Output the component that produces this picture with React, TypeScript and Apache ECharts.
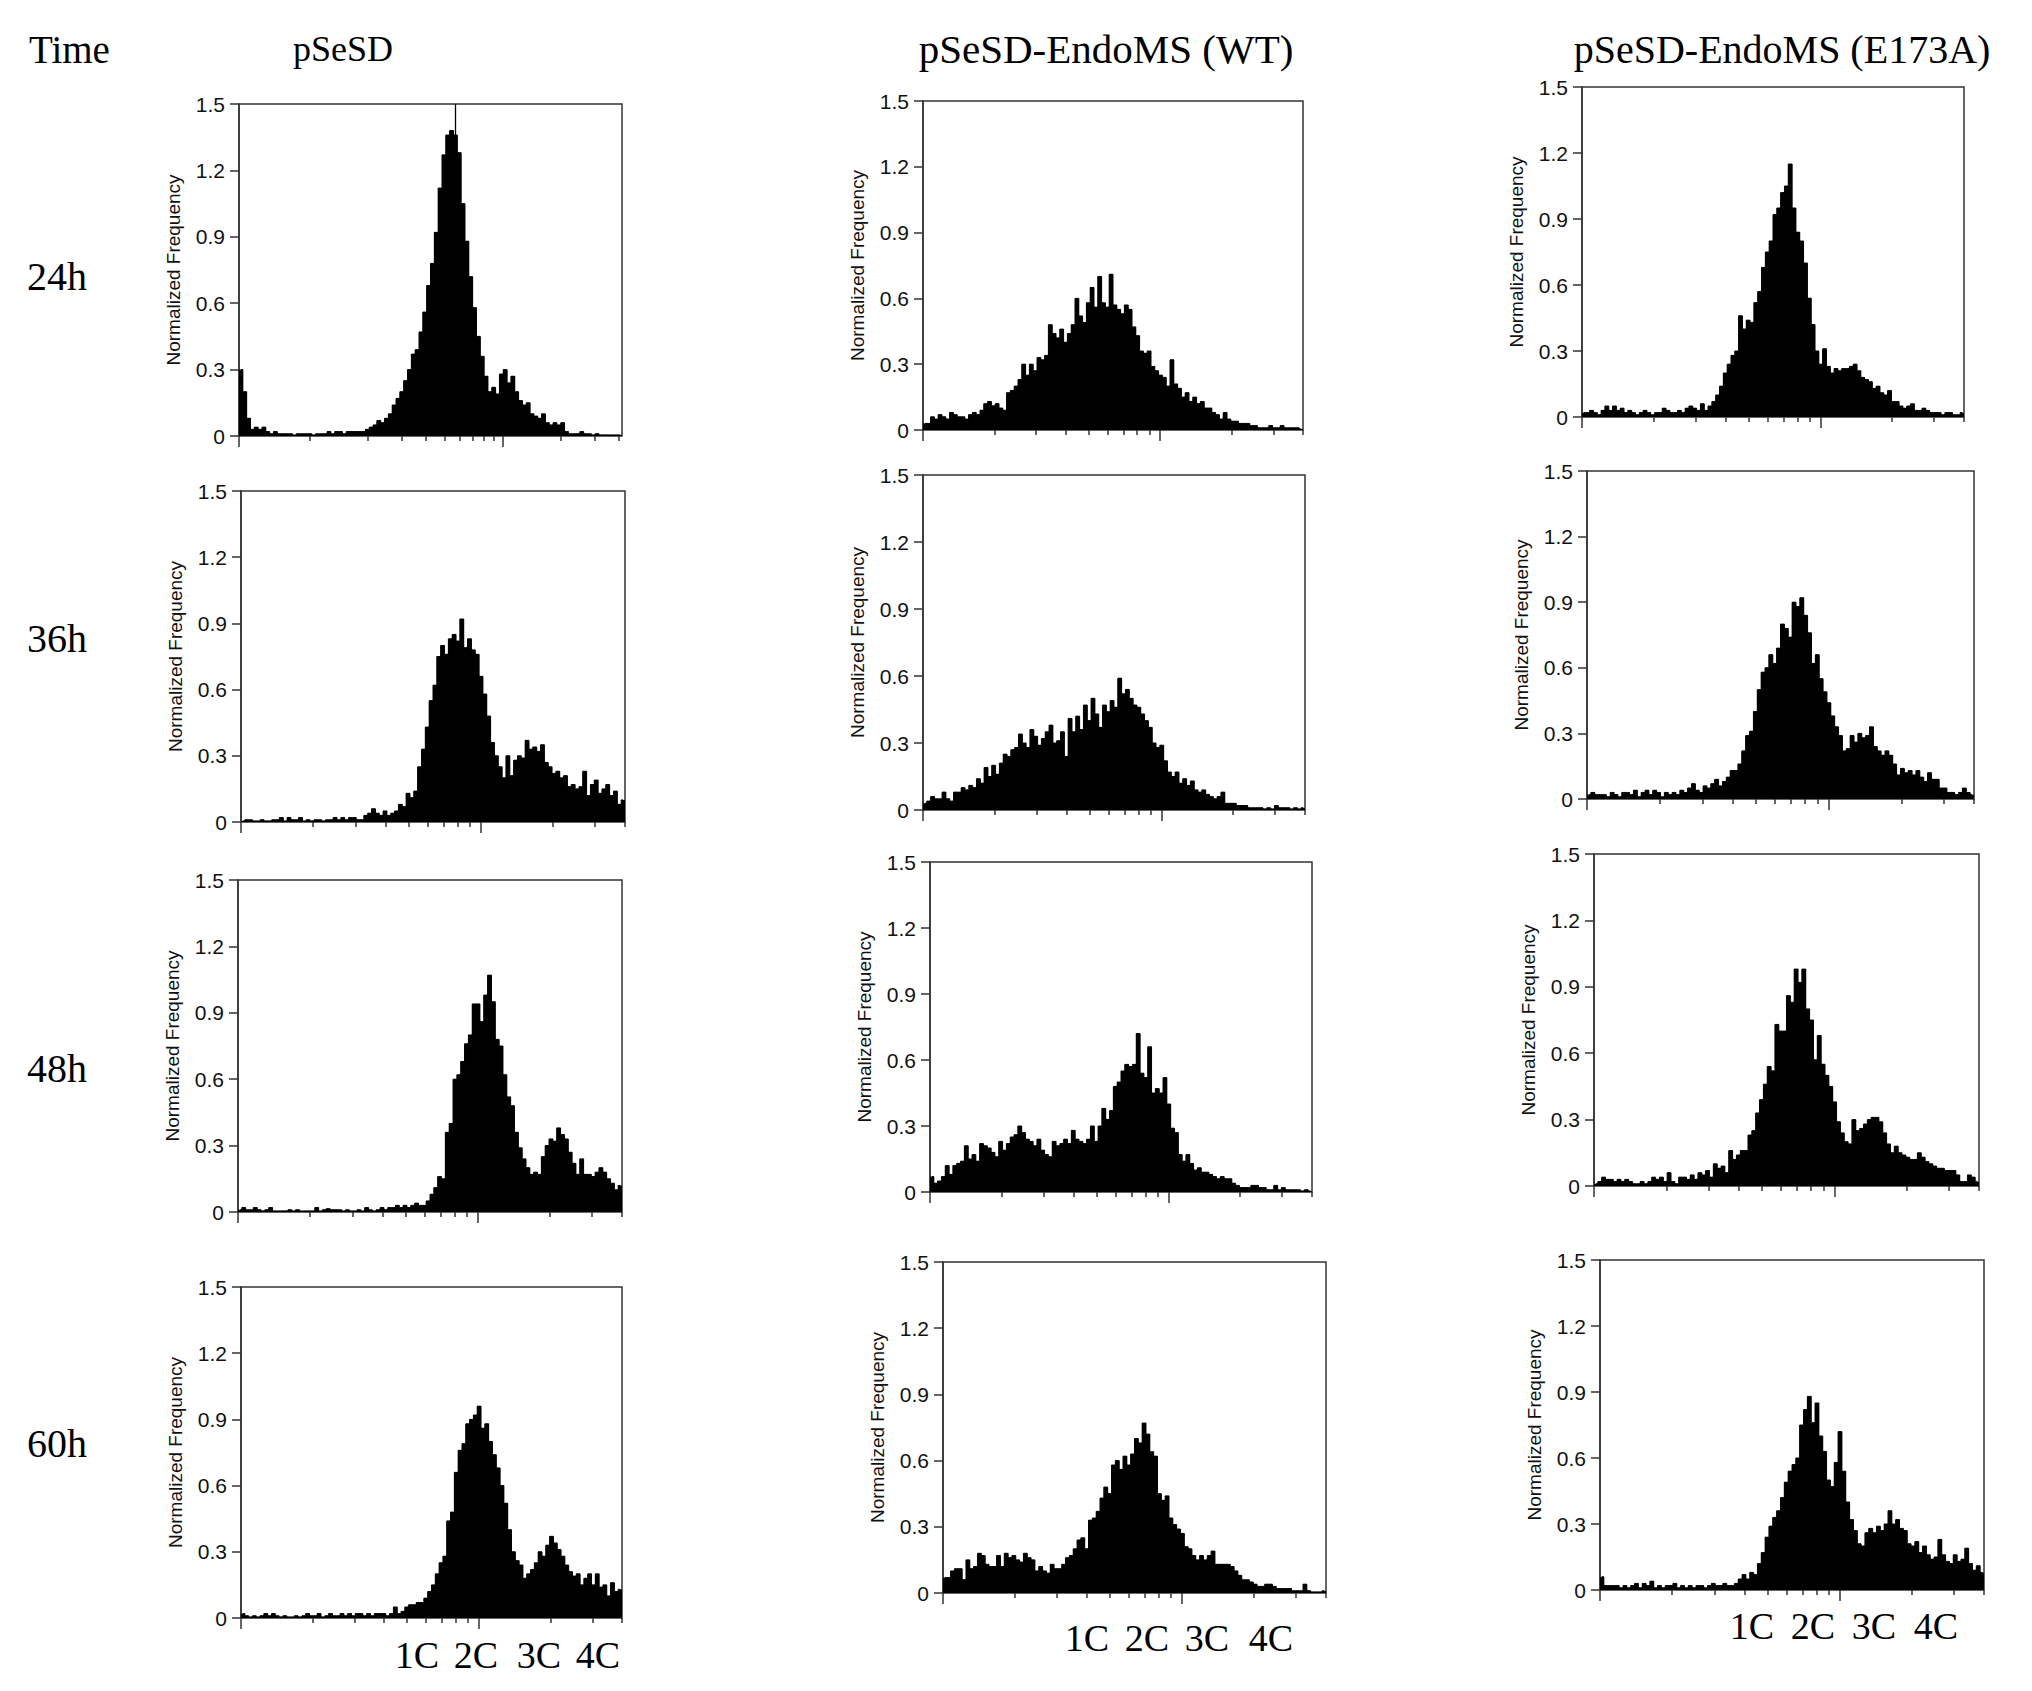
import React, { useEffect, useRef } from 'react';
import * as echarts from 'echarts';

const timeHeader = 'Time';
const timeLabels = ['24h', '36h', '48h', '60h'];
const strainTitles = ['pSeSD', 'pSeSD-EndoMS (WT)', 'pSeSD-EndoMS (E173A)'];
const ploidyLabels = ['1C', '2C', '3C', '4C'];
const yAxisName = 'Normalized Frequency';
const yTickValues = [0, 0.3, 0.6, 0.9, 1.2, 1.5];

// Normalized frequency per fluorescence bin (100 log-spaced bins across each panel)
const pSeSD_24h = [
  0.30, 0.20, 0.08, 0.03, 0.04, 0.03, 0.04, 0.02, 0.01, 0.02,
  0.01, 0.01, 0.01, 0.01, 0.005, 0.01, 0.01, 0.01, 0.01, 0.005,
  0.01, 0.01, 0.01, 0.02, 0.01, 0.02, 0.02, 0.01, 0.02, 0.02,
  0.02, 0.02, 0.02, 0.03, 0.04, 0.05, 0.07, 0.06, 0.08, 0.10,
  0.14, 0.17, 0.20, 0.25, 0.30, 0.37, 0.39, 0.47, 0.56, 0.68,
  0.78, 0.92, 1.12, 1.27, 1.36, 1.38, 1.36, 1.28, 1.05, 0.88,
  0.72, 0.58, 0.45, 0.36, 0.27, 0.20, 0.22, 0.19, 0.28, 0.30,
  0.24, 0.27, 0.20, 0.16, 0.14, 0.15, 0.10, 0.09, 0.08, 0.10,
  0.06, 0.05, 0.06, 0.05, 0.06, 0.02, 0.01, 0.01, 0.01, 0.02,
  0.01, 0.01, 0.005, 0.01, 0.005, 0.005, 0.005, 0.005, 0.005, 0.005,
];
const pSeSD_36h = [
  0.005, 0.01, 0.01, 0.005, 0.005, 0.01, 0.005, 0.005, 0.01, 0.01,
  0.02, 0.005, 0.02, 0.01, 0.01, 0.02, 0.005, 0.01, 0.005, 0.01,
  0.01, 0.005, 0.01, 0.01, 0.02, 0.01, 0.02, 0.01, 0.02, 0.02,
  0.01, 0.01, 0.03, 0.04, 0.06, 0.04, 0.03, 0.05, 0.03, 0.04,
  0.05, 0.08, 0.07, 0.13, 0.11, 0.14, 0.25, 0.33, 0.43, 0.55,
  0.62, 0.75, 0.80, 0.76, 0.83, 0.85, 0.82, 0.92, 0.79, 0.83,
  0.78, 0.76, 0.66, 0.58, 0.48, 0.36, 0.30, 0.25, 0.20, 0.30,
  0.21, 0.28, 0.30, 0.29, 0.37, 0.33, 0.34, 0.32, 0.35, 0.27,
  0.25, 0.22, 0.23, 0.20, 0.21, 0.16, 0.17, 0.15, 0.16, 0.23,
  0.12, 0.17, 0.19, 0.13, 0.15, 0.17, 0.12, 0.14, 0.08, 0.10,
];
const pSeSD_48h = [
  0.01, 0.02, 0.01, 0.01, 0.02, 0.01, 0.005, 0.01, 0.02, 0.005,
  0.005, 0.005, 0.005, 0.01, 0.005, 0.01, 0.005, 0.005, 0.005, 0.005,
  0.02, 0.005, 0.01, 0.015, 0.01, 0.01, 0.01, 0.005, 0.01, 0.005,
  0.005, 0.01, 0.005, 0.02, 0.01, 0.005, 0.01, 0.02, 0.01, 0.02,
  0.02, 0.03, 0.02, 0.03, 0.02, 0.03, 0.04, 0.03, 0.03, 0.05,
  0.08, 0.11, 0.16, 0.15, 0.36, 0.40, 0.60, 0.62, 0.68, 0.76,
  0.80, 0.94, 0.94, 0.86, 0.98, 1.07, 0.95, 0.78, 0.75, 0.62,
  0.52, 0.48, 0.36, 0.29, 0.24, 0.20, 0.17, 0.18, 0.17, 0.25,
  0.30, 0.33, 0.32, 0.38, 0.35, 0.33, 0.27, 0.22, 0.17, 0.24,
  0.17, 0.17, 0.16, 0.18, 0.20, 0.18, 0.15, 0.13, 0.10, 0.12,
];
const pSeSD_60h = [
  0.02, 0.01, 0.005, 0.01, 0.005, 0.01, 0.02, 0.01, 0.02, 0.01,
  0.005, 0.01, 0.005, 0.005, 0.01, 0.005, 0.01, 0.02, 0.01, 0.01,
  0.02, 0.005, 0.01, 0.02, 0.01, 0.01, 0.02, 0.01, 0.02, 0.01,
  0.02, 0.02, 0.01, 0.02, 0.01, 0.02, 0.02, 0.02, 0.01, 0.02,
  0.05, 0.02, 0.03, 0.05, 0.06, 0.06, 0.07, 0.07, 0.09, 0.12,
  0.15, 0.20, 0.25, 0.28, 0.44, 0.48, 0.66, 0.76, 0.79, 0.88,
  0.90, 0.92, 0.96, 0.86, 0.88, 0.80, 0.74, 0.68, 0.60, 0.52,
  0.40, 0.30, 0.26, 0.24, 0.18, 0.20, 0.22, 0.25, 0.30, 0.28,
  0.33, 0.37, 0.34, 0.31, 0.28, 0.24, 0.21, 0.19, 0.20, 0.15,
  0.18, 0.20, 0.15, 0.20, 0.14, 0.15, 0.10, 0.16, 0.12, 0.13,
];
const wt_24h = [
  0.03, 0.03, 0.06, 0.05, 0.07, 0.06, 0.05, 0.08, 0.07, 0.06,
  0.06, 0.05, 0.07, 0.08, 0.07, 0.09, 0.12, 0.13, 0.11, 0.12,
  0.10, 0.09, 0.17, 0.18, 0.20, 0.23, 0.30, 0.25, 0.30, 0.27,
  0.33, 0.32, 0.34, 0.48, 0.44, 0.42, 0.46, 0.40, 0.44, 0.48,
  0.60, 0.52, 0.49, 0.58, 0.65, 0.56, 0.70, 0.58, 0.56, 0.71,
  0.57, 0.55, 0.53, 0.57, 0.55, 0.47, 0.43, 0.36, 0.35, 0.36,
  0.29, 0.27, 0.25, 0.24, 0.20, 0.32, 0.21, 0.19, 0.15, 0.17,
  0.13, 0.15, 0.12, 0.13, 0.10, 0.10, 0.08, 0.07, 0.05, 0.08,
  0.05, 0.04, 0.04, 0.03, 0.03, 0.03, 0.02, 0.02, 0.01, 0.01,
  0.01, 0.02, 0.01, 0.01, 0.02, 0.01, 0.01, 0.01, 0.01, 0.005,
];
const wt_36h = [
  0.03, 0.04, 0.06, 0.05, 0.05, 0.08, 0.05, 0.04, 0.08, 0.08,
  0.10, 0.09, 0.11, 0.10, 0.14, 0.12, 0.19, 0.15, 0.20, 0.16,
  0.21, 0.25, 0.24, 0.27, 0.28, 0.34, 0.30, 0.28, 0.36, 0.33,
  0.29, 0.32, 0.35, 0.38, 0.30, 0.31, 0.35, 0.24, 0.41, 0.35,
  0.42, 0.36, 0.47, 0.40, 0.50, 0.43, 0.37, 0.47, 0.44, 0.49,
  0.46, 0.59, 0.52, 0.54, 0.50, 0.47, 0.46, 0.43, 0.40, 0.37,
  0.30, 0.28, 0.29, 0.22, 0.17, 0.15, 0.17, 0.12, 0.14, 0.11,
  0.13, 0.09, 0.08, 0.09, 0.07, 0.06, 0.05, 0.06, 0.08, 0.03,
  0.03, 0.03, 0.02, 0.02, 0.02, 0.01, 0.01, 0.01, 0.01, 0.005,
  0.01, 0.005, 0.02, 0.01, 0.01, 0.01, 0.005, 0.01, 0.005, 0.01,
];
const wt_48h = [
  0.07, 0.04, 0.05, 0.07, 0.12, 0.08, 0.12, 0.13, 0.14, 0.21,
  0.15, 0.17, 0.14, 0.22, 0.21, 0.20, 0.18, 0.16, 0.23, 0.19,
  0.22, 0.25, 0.26, 0.30, 0.27, 0.24, 0.23, 0.21, 0.24, 0.19,
  0.17, 0.16, 0.23, 0.21, 0.22, 0.24, 0.22, 0.28, 0.24, 0.23,
  0.22, 0.24, 0.30, 0.23, 0.30, 0.38, 0.33, 0.37, 0.48, 0.50,
  0.55, 0.58, 0.57, 0.58, 0.72, 0.54, 0.52, 0.66, 0.45, 0.47,
  0.45, 0.52, 0.40, 0.29, 0.27, 0.17, 0.14, 0.17, 0.13, 0.10,
  0.11, 0.09, 0.09, 0.08, 0.07, 0.06, 0.07, 0.06, 0.06, 0.04,
  0.03, 0.02, 0.02, 0.02, 0.03, 0.03, 0.02, 0.02, 0.01, 0.01,
  0.03, 0.01, 0.02, 0.01, 0.01, 0.01, 0.01, 0.005, 0.01, 0.005,
];
const wt_60h = [
  0.07, 0.07, 0.10, 0.11, 0.11, 0.06, 0.15, 0.11, 0.12, 0.18,
  0.17, 0.13, 0.12, 0.12, 0.17, 0.12, 0.18, 0.16, 0.17, 0.15,
  0.14, 0.18, 0.16, 0.15, 0.10, 0.12, 0.10, 0.09, 0.13, 0.11,
  0.11, 0.13, 0.16, 0.17, 0.20, 0.24, 0.25, 0.20, 0.33, 0.34,
  0.37, 0.43, 0.48, 0.45, 0.58, 0.60, 0.56, 0.62, 0.58, 0.63,
  0.70, 0.68, 0.77, 0.72, 0.64, 0.62, 0.45, 0.42, 0.44, 0.34,
  0.31, 0.29, 0.27, 0.21, 0.20, 0.17, 0.15, 0.17, 0.15, 0.17,
  0.19, 0.13, 0.13, 0.13, 0.13, 0.12, 0.10, 0.08, 0.06, 0.06,
  0.05, 0.04, 0.03, 0.03, 0.04, 0.04, 0.03, 0.02, 0.02, 0.02,
  0.02, 0.01, 0.01, 0.01, 0.04, 0.01, 0.005, 0.005, 0.005, 0.01,
];
const e173a_24h = [
  0.02, 0.02, 0.03, 0.02, 0.01, 0.03, 0.05, 0.03, 0.05, 0.03,
  0.04, 0.02, 0.03, 0.02, 0.01, 0.02, 0.03, 0.02, 0.01, 0.02,
  0.02, 0.04, 0.03, 0.02, 0.02, 0.03, 0.02, 0.04, 0.05, 0.04,
  0.03, 0.06, 0.03, 0.05, 0.07, 0.10, 0.14, 0.20, 0.24, 0.28,
  0.30, 0.46, 0.40, 0.44, 0.43, 0.52, 0.57, 0.68, 0.75, 0.80,
  0.92, 0.95, 1.02, 1.05, 1.15, 0.95, 0.84, 0.80, 0.70, 0.54,
  0.42, 0.30, 0.24, 0.31, 0.23, 0.20, 0.22, 0.21, 0.22, 0.22,
  0.23, 0.24, 0.21, 0.18, 0.17, 0.16, 0.13, 0.14, 0.11, 0.10,
  0.12, 0.07, 0.07, 0.05, 0.04, 0.05, 0.06, 0.03, 0.03, 0.04,
  0.03, 0.02, 0.02, 0.02, 0.01, 0.02, 0.02, 0.01, 0.01, 0.02,
];
const e173a_36h = [
  0.02, 0.03, 0.02, 0.02, 0.02, 0.01, 0.03, 0.02, 0.01, 0.03,
  0.03, 0.02, 0.04, 0.01, 0.03, 0.04, 0.02, 0.04, 0.03, 0.01,
  0.03, 0.02, 0.03, 0.02, 0.04, 0.03, 0.05, 0.07, 0.04, 0.03,
  0.06, 0.05, 0.07, 0.09, 0.06, 0.08, 0.10, 0.13, 0.13, 0.16,
  0.22, 0.29, 0.31, 0.40, 0.50, 0.58, 0.60, 0.66, 0.62, 0.69,
  0.80, 0.78, 0.74, 0.90, 0.88, 0.92, 0.84, 0.76, 0.62, 0.66,
  0.55, 0.49, 0.44, 0.38, 0.33, 0.29, 0.22, 0.23, 0.29, 0.26,
  0.30, 0.28, 0.29, 0.33, 0.24, 0.22, 0.20, 0.22, 0.20, 0.16,
  0.11, 0.14, 0.12, 0.13, 0.11, 0.13, 0.10, 0.08, 0.12, 0.09,
  0.09, 0.05, 0.05, 0.03, 0.03, 0.02, 0.03, 0.05, 0.03, 0.02,
];
const e173a_48h = [
  0.01, 0.02, 0.04, 0.03, 0.03, 0.02, 0.03, 0.02, 0.03, 0.02,
  0.01, 0.01, 0.02, 0.01, 0.02, 0.04, 0.03, 0.04, 0.02, 0.06,
  0.02, 0.01, 0.04, 0.04, 0.03, 0.05, 0.03, 0.06, 0.05, 0.07,
  0.04, 0.10, 0.08, 0.09, 0.06, 0.16, 0.12, 0.14, 0.16, 0.16,
  0.23, 0.25, 0.33, 0.39, 0.46, 0.54, 0.52, 0.73, 0.70, 0.70,
  0.86, 0.83, 0.98, 0.92, 0.98, 0.80, 0.75, 0.57, 0.68, 0.55,
  0.50, 0.45, 0.38, 0.29, 0.24, 0.20, 0.19, 0.30, 0.25, 0.26,
  0.28, 0.30, 0.31, 0.31, 0.29, 0.24, 0.19, 0.15, 0.18, 0.15,
  0.14, 0.13, 0.12, 0.12, 0.15, 0.13, 0.11, 0.10, 0.09, 0.08,
  0.08, 0.07, 0.07, 0.07, 0.05, 0.02, 0.02, 0.05, 0.04, 0.02,
];
const e173a_60h = [
  0.06, 0.02, 0.02, 0.02, 0.02, 0.01, 0.02, 0.01, 0.02, 0.03,
  0.01, 0.03, 0.02, 0.04, 0.01, 0.02, 0.01, 0.02, 0.02, 0.03,
  0.01, 0.02, 0.01, 0.02, 0.01, 0.02, 0.02, 0.01, 0.02, 0.03,
  0.02, 0.02, 0.03, 0.02, 0.02, 0.03, 0.05, 0.07, 0.05, 0.08,
  0.07, 0.12, 0.17, 0.24, 0.29, 0.33, 0.36, 0.42, 0.49, 0.54,
  0.57, 0.60, 0.75, 0.82, 0.88, 0.76, 0.85, 0.70, 0.63, 0.50,
  0.47, 0.58, 0.72, 0.54, 0.40, 0.32, 0.27, 0.21, 0.20, 0.26,
  0.28, 0.26, 0.29, 0.27, 0.30, 0.36, 0.30, 0.32, 0.28, 0.27,
  0.21, 0.20, 0.22, 0.17, 0.20, 0.16, 0.14, 0.15, 0.23, 0.16,
  0.13, 0.12, 0.16, 0.13, 0.14, 0.19, 0.12, 0.09, 0.11, 0.08,
];

// row-major: rows = time points, columns = strains
const panelSeries = [
  pSeSD_24h, wt_24h, e173a_24h,
  pSeSD_36h, wt_36h, e173a_36h,
  pSeSD_48h, wt_48h, e173a_48h,
  pSeSD_60h, wt_60h, e173a_60h,
];

// gate marker in the first panel: [bin index, from, to]
const gateMarker = [56, 1.3, 1.5];

// ---------- layout (pixels) ----------
const W = 2032;
const H = 1691;
const gridBoxes = [
  [239, 104, 383, 332], [923, 101, 380, 329], [1582, 87, 382, 330],
  [241, 491, 384, 331], [923, 475, 382, 335], [1587, 471, 387, 328],
  [238, 880, 384, 332], [930, 862, 382, 330], [1594, 854, 385, 332],
  [241, 1287, 381, 331], [943, 1262, 383, 331], [1600, 1260, 384, 330],
];
const rowLabelY = [276, 638, 1068, 1443];
const titleCenterX = [343, 1106, 1782];
const titleSize = [36, 41, 40];
const titleY = 49;
const ploidyX = [
  [417, 476, 539, 598],
  [1087, 1147, 1207, 1271],
  [1752, 1813, 1874, 1936],
];
const ploidyY = [1655, 1638, 1626];

const SERIF = "'Liberation Serif', 'Times New Roman', serif";
const SANS = "'Liberation Sans', Arial, sans-serif";
const AXIS_COLOR = '#333';

const LOG_MAX = Math.log10(40);
const minorDecadeTicks = [2, 3, 4, 5, 6, 7, 8, 9, 20, 30, 40].map((v) => Math.log10(v));

function buildOption() {
  const grid: any[] = [];
  const xAxis: any[] = [];
  const yAxis: any[] = [];
  const series: any[] = [];

  panelSeries.forEach((vals, k) => {
    const [left, top, width, height] = gridBoxes[k];
    const firstPanel = k === 0;
    const xMin = firstPanel ? -0.37 : 0;
    const xMax = firstPanel ? 1.62 : LOG_MAX;
    const majors = firstPanel ? [xMin, 1] : [0, 1];
    const minors = firstPanel ? [0, ...minorDecadeTicks] : minorDecadeTicks;

    grid.push({
      left, top, width, height,
      show: true,
      borderColor: AXIS_COLOR,
      borderWidth: 1.5,
      backgroundColor: 'transparent',
      containLabel: false,
    });

    xAxis.push({
      type: 'category',
      gridIndex: k,
      data: vals.map((_, i) => i),
      boundaryGap: true,
      show: false,
      axisLine: { onZero: false },
    });
    const tickAxis = (vals2: number[], len: number) => ({
      type: 'value',
      gridIndex: k,
      min: xMin,
      max: xMax,
      position: 'bottom',
      axisLine: { show: false, onZero: false },
      splitLine: { show: false },
      axisLabel: { show: false },
      axisTick: {
        show: true,
        customValues: vals2,
        length: len,
        lineStyle: { color: AXIS_COLOR, width: 1.5 },
      },
    });
    xAxis.push(tickAxis(majors, 11));
    xAxis.push(tickAxis(minors, 5));

    yAxis.push({
      type: 'value',
      gridIndex: k,
      min: yTickValues[0],
      max: yTickValues[yTickValues.length - 1],
      interval: 0.3,
      position: 'left',
      name: yAxisName,
      nameLocation: 'middle',
      nameGap: 56,
      nameTextStyle: { fontFamily: SANS, fontSize: 19, color: '#111' },
      axisLine: { show: true, onZero: false, lineStyle: { color: AXIS_COLOR, width: 1.5 } },
      axisTick: { show: true, length: 9, lineStyle: { color: AXIS_COLOR, width: 1.5 } },
      axisLabel: {
        fontFamily: SANS,
        fontSize: 21,
        color: '#111',
        margin: 14,
        formatter: (v: number) => (v === 0 ? '0' : v.toFixed(1)),
      },
      splitLine: { show: false },
    });

    const s: any = {
      type: 'bar',
      xAxisIndex: 3 * k,
      yAxisIndex: k,
      data: vals,
      barCategoryGap: '0%',
      barGap: '0%',
      silent: true,
      itemStyle: { color: '#000', borderColor: '#000', borderWidth: 1 },
    };
    if (firstPanel) {
      s.markLine = {
        silent: true,
        symbol: ['none', 'none'],
        label: { show: false },
        lineStyle: { color: '#000', width: 1.3, type: 'solid' },
        data: [[{ coord: [gateMarker[0], gateMarker[1]] }, { coord: [gateMarker[0], gateMarker[2]] }]],
      };
    }
    series.push(s);
    // solid silhouette of the same histogram (fills anti-aliasing seams between bars)
    series.push({
      type: 'line',
      xAxisIndex: 3 * k,
      yAxisIndex: k,
      data: vals,
      step: 'middle',
      symbol: 'none',
      silent: true,
      lineStyle: { color: '#000', width: 1 },
      areaStyle: { color: '#000', opacity: 1 },
    });
  });

  const graphic: any[] = [];
  const txt = (text: string, x: number, y: number, size: number, align: string) => ({
    type: 'text',
    x,
    y,
    silent: true,
    style: {
      text,
      fontFamily: SERIF,
      fontSize: size,
      fill: '#000',
      align,
      textAlign: align,
      verticalAlign: 'middle',
      textVerticalAlign: 'middle',
    },
  });
  graphic.push(txt(timeHeader, 29, titleY, 39, 'left'));
  strainTitles.forEach((t, c) => graphic.push(txt(t, titleCenterX[c], titleY, titleSize[c], 'center')));
  timeLabels.forEach((t, r) => graphic.push(txt(t, 27, rowLabelY[r], 40, 'left')));
  ploidyX.forEach((xs, c) => {
    ploidyLabels.forEach((t, j) => graphic.push(txt(t, xs[j], ploidyY[c], 38, 'center')));
  });

  return {
    animation: false,
    backgroundColor: '#fff',
    grid,
    xAxis,
    yAxis,
    series,
    graphic,
  };
}

export default function App() {
  const ref = useRef<HTMLDivElement>(null);
  useEffect(() => {
    document.body.style.margin = '0';
    document.body.style.overflow = 'hidden';
    document.body.style.background = '#fff';
    if (!ref.current) return;
    const chart = echarts.init(ref.current, undefined, { renderer: 'svg', width: W, height: H });
    chart.setOption(buildOption() as any);
    return () => chart.dispose();
  }, []);
  return <div ref={ref} style={{ width: W, height: H, background: '#fff' }} />;
}
